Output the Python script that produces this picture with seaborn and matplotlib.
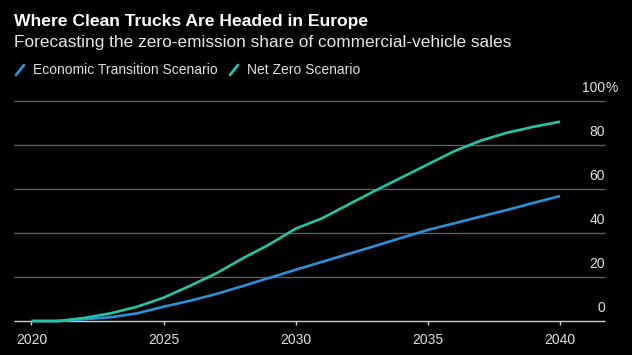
import matplotlib
matplotlib.use("Agg")
import matplotlib.pyplot as plt
import seaborn as sns
import pandas as pd
from matplotlib.lines import Line2D

years = list(range(2020, 2041))
economic_transition = [0, 0, 0.8, 1.7, 3.5, 6.5, 9.2, 12.3, 15.9, 19.6, 23.3,
                       26.9, 30.5, 34.1, 37.8, 41.4, 44.4, 47.5, 50.5, 53.7, 56.8]
net_zero = [0, 0, 1.4, 3.5, 6.5, 10.6, 16.0, 21.7, 28.5, 34.8, 42.0,
            46.7, 53.0, 59.2, 65.2, 71.2, 77.2, 82.0, 85.6, 88.3, 90.6]
scenarios = ["Economic Transition Scenario", "Net Zero Scenario"]
colors = ["#2d8fd5", "#25c4a2"]
y_ticks = [0, 20, 40, 60, 80, 100]
x_ticks = [2020, 2025, 2030, 2035, 2040]

df = pd.DataFrame({
    "year": years * 2,
    "share": economic_transition + net_zero,
    "scenario": [scenarios[0]] * len(years) + [scenarios[1]] * len(years),
})

sns.set_theme(style="dark")
plt.rcParams["font.family"] = ["Liberation Sans", "DejaVu Sans"]

W, H = 632, 355
fig = plt.figure(figsize=(W / 100, H / 100), dpi=100, facecolor="black")
ax = fig.add_axes([14 / W, 34 / H, 591 / W, 220 / H])
ax.set_facecolor("black")

# grid first, so the lines sit on top
for t in y_ticks[1:]:
    ax.axhline(t, color="#5e5e5e", lw=1, zorder=1, clip_on=False)
ax.axhline(0, color="#d0d0d0", lw=1, zorder=2, clip_on=False)

sns.lineplot(data=df, x="year", y="share", hue="scenario", palette=colors,
             linewidth=1.9, legend=False, ax=ax, zorder=3)
for ln in ax.lines:
    ln.set_clip_on(False)
    ln.set_solid_capstyle("butt")

ax.set_xlim(2019.34, 2041.70)
ax.set_ylim(0, 100)
for s in ax.spines.values():
    s.set_visible(False)
ax.grid(False)
ax.set_xlabel("")
ax.set_ylabel("")
ax.set_yticks([])
ax.set_xticks(x_ticks)
ax.set_xticklabels([str(x) for x in x_ticks])
ax.tick_params(axis="x", bottom=True, length=3, width=1, color="#d0d0d0",
               direction="out", pad=6, labelsize=10, labelcolor="#e0e0e0")

# right-side value labels above each gridline
ytr = ax.get_yaxis_transform()
for t in y_ticks:
    ax.text(1.0, t + 9 / 2.2, str(t), transform=ytr, ha="right", va="baseline",
            fontsize=10, color="#e0e0e0")
ax.text(1.0, y_ticks[-1] + 9 / 2.2, "%", transform=ytr, ha="left",
        va="baseline", fontsize=10, color="#e0e0e0")

fig.text(14 / W, 1 - 25.7 / H, "Where Clean Trucks Are Headed in Europe",
         fontsize=12.6, weight="bold", color="white", va="baseline")
fig.text(14 / W, 1 - 46.7 / H,
         "Forecasting the zero-emission share of commercial-vehicle sales",
         fontsize=12.4, color="#e6e6e6", va="baseline")

# legend: coloured slashes + labels
legend_x = [(16, 33), (230, 247)]
for (sx, tx), name, c in zip(legend_x, scenarios, colors):
    fig.add_artist(Line2D([sx / W, (sx + 8) / W], [1 - 75 / H, 1 - 65 / H],
                          color=c, lw=2, transform=fig.transFigure))
    fig.text(tx / W, 1 - 74.5 / H, name, fontsize=10, color="#e0e0e0",
             va="baseline")

fig.savefig("out.png", dpi=100, facecolor="black")
